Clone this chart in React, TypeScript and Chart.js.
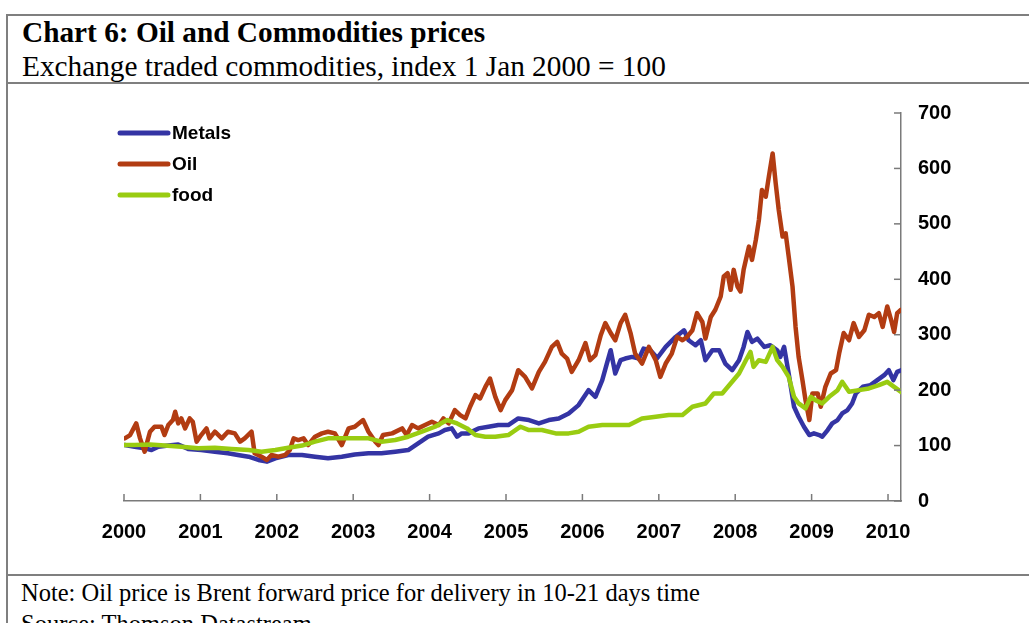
import React, { useEffect, useRef } from "react";
import { Chart, registerables } from "chart.js";

Chart.register(...registerables);

const titleText = "Chart 6: Oil and Commodities prices";
const subtitleText = "Exchange traded commodities, index 1 Jan 2000 = 100";
const noteText = "Note: Oil price is Brent forward price for delivery in 10-21 days time";
const sourceText = "Source: Thomson Datastream";

const seriesNames = ["Metals", "Oil", "food"];
const seriesColors = ["#3434A4", "#B23C12", "#99CC11"];

const xMin = 2000;
const xMax = 2010.17;
const yMin = 0;
const yMax = 700;
const yStep = 100;
const xStep = 1;

const metalsYears = [
  2000.01, 2000.14, 2000.27, 2000.36, 2000.45, 2000.58, 2000.71, 2000.84, 2001.01, 2001.19,
  2001.36, 2001.49, 2001.63, 2001.76, 2001.87, 2001.98, 2002.15, 2002.33, 2002.5, 2002.67,
  2002.85, 2003.02, 2003.2, 2003.37, 2003.55, 2003.72, 2003.85, 2003.98, 2004.12, 2004.2,
  2004.29, 2004.36, 2004.42, 2004.51, 2004.64, 2004.77, 2004.9, 2005.03, 2005.16, 2005.3,
  2005.43, 2005.56, 2005.69, 2005.82, 2005.95, 2006.08, 2006.17, 2006.26, 2006.32, 2006.37,
  2006.43, 2006.5, 2006.56, 2006.65, 2006.74, 2006.8, 2006.89, 2006.98, 2007.09, 2007.22,
  2007.33, 2007.39, 2007.48, 2007.55, 2007.61, 2007.7, 2007.79, 2007.87, 2007.96, 2008.05,
  2008.11, 2008.16, 2008.22, 2008.29, 2008.38, 2008.46, 2008.55, 2008.59, 2008.64, 2008.7,
  2008.77, 2008.83, 2008.9, 2008.97, 2009.03, 2009.1, 2009.14, 2009.21, 2009.27, 2009.34,
  2009.4, 2009.47, 2009.53, 2009.58, 2009.67, 2009.77, 2009.86, 2009.95, 2010.01, 2010.07,
  2010.12, 2010.17,
];
const metalsValues = [
  101, 98, 95, 92, 98, 100, 102, 94, 92, 89,
  86, 83, 80, 74, 71, 77, 83, 83, 80, 77,
  80, 84, 86, 86, 89, 92, 104, 116, 122, 128,
  131, 116, 122, 122, 131, 134, 137, 137, 149, 146,
  140, 146, 149, 158, 173, 200, 188, 218, 248, 272,
  230, 254, 257, 260, 257, 275, 272, 258, 278, 296,
  308, 290, 281, 290, 254, 272, 272, 248, 236, 254,
  278, 305, 287, 293, 278, 281, 272, 260, 278, 230,
  170, 152, 134, 119, 122, 119, 116, 128, 140, 146,
  158, 164, 176, 194, 206, 209, 218, 227, 236, 218,
  233, 236,
];

const oilYears = [
  2000.01, 2000.08, 2000.16, 2000.21, 2000.27, 2000.34, 2000.4, 2000.49, 2000.53, 2000.58,
  2000.64, 2000.67, 2000.71, 2000.75, 2000.8, 2000.86, 2000.9, 2000.95, 2001.01, 2001.08,
  2001.12, 2001.19, 2001.28, 2001.36, 2001.45, 2001.52, 2001.58, 2001.67, 2001.71, 2001.8,
  2001.87, 2001.93, 2002.02, 2002.11, 2002.17, 2002.22, 2002.28, 2002.35, 2002.41, 2002.5,
  2002.59, 2002.67, 2002.76, 2002.85, 2002.94, 2003.02, 2003.13, 2003.2, 2003.29, 2003.33,
  2003.39, 2003.51, 2003.64, 2003.7, 2003.77, 2003.85, 2003.94, 2004.03, 2004.12, 2004.18,
  2004.25, 2004.33, 2004.4, 2004.47, 2004.53, 2004.6, 2004.66, 2004.73, 2004.79, 2004.86,
  2004.93, 2004.99, 2005.08, 2005.16, 2005.25, 2005.34, 2005.43, 2005.51, 2005.6, 2005.67,
  2005.73, 2005.8, 2005.86, 2005.95, 2006.04, 2006.1, 2006.17, 2006.24, 2006.3, 2006.37,
  2006.43, 2006.5, 2006.56, 2006.63, 2006.69, 2006.78, 2006.87, 2006.96, 2007.02, 2007.09,
  2007.17, 2007.24, 2007.31, 2007.37, 2007.44, 2007.5, 2007.57, 2007.61, 2007.68, 2007.74,
  2007.81, 2007.85, 2007.9, 2007.94, 2007.98, 2008.03, 2008.07, 2008.11, 2008.18, 2008.22,
  2008.27, 2008.31, 2008.35, 2008.4, 2008.44, 2008.49, 2008.53, 2008.57, 2008.62, 2008.66,
  2008.7, 2008.75, 2008.79, 2008.83, 2008.88, 2008.92, 2008.97, 2009.01, 2009.08, 2009.12,
  2009.18, 2009.25, 2009.32, 2009.36, 2009.42, 2009.49, 2009.55, 2009.62, 2009.69, 2009.75,
  2009.82, 2009.88, 2009.93, 2009.99, 2010.04, 2010.08, 2010.12, 2010.17,
];
const oilValues = [
  113, 119, 140, 113, 89, 125, 134, 134, 119, 137,
  146, 161, 140, 149, 131, 149, 143, 107, 119, 131,
  113, 125, 113, 125, 122, 107, 113, 125, 86, 80,
  74, 83, 80, 83, 92, 113, 110, 113, 101, 116,
  122, 125, 122, 101, 131, 134, 146, 125, 107, 101,
  119, 122, 131, 119, 137, 131, 137, 143, 137, 149,
  140, 164, 155, 149, 170, 191, 185, 206, 221, 188,
  164, 182, 200, 236, 224, 203, 233, 251, 278, 287,
  266, 257, 233, 254, 285, 254, 263, 299, 321, 303,
  290, 321, 336, 303, 266, 248, 278, 254, 224, 248,
  266, 296, 290, 296, 308, 339, 323, 293, 332, 345,
  369, 405, 411, 381, 417, 387, 378, 417, 459, 435,
  471, 507, 561, 549, 585, 627, 573, 525, 477, 483,
  441, 387, 314, 260, 218, 182, 146, 194, 194, 170,
  206, 230, 236, 266, 303, 290, 321, 296, 308, 336,
  332, 339, 314, 351, 327, 305, 339, 345,
];

const foodYears = [
  2000.01, 2000.14, 2000.34, 2000.53, 2000.75, 2000.97, 2001.19, 2001.41, 2001.63, 2001.8,
  2001.98, 2002.15, 2002.33, 2002.5, 2002.67, 2002.85, 2003.02, 2003.2, 2003.37, 2003.55,
  2003.72, 2003.9, 2004.07, 2004.23, 2004.36, 2004.49, 2004.6, 2004.73, 2004.86, 2005.03,
  2005.19, 2005.3, 2005.47, 2005.65, 2005.82, 2005.95, 2006.08, 2006.26, 2006.43, 2006.61,
  2006.78, 2006.96, 2007.13, 2007.31, 2007.44, 2007.61, 2007.72, 2007.83, 2007.94, 2008.05,
  2008.14, 2008.2, 2008.24, 2008.31, 2008.4, 2008.49, 2008.55, 2008.62, 2008.7, 2008.77,
  2008.83, 2008.92, 2008.99, 2009.05, 2009.14, 2009.23, 2009.34, 2009.4, 2009.49, 2009.62,
  2009.75, 2009.88, 2009.99, 2010.08, 2010.17,
];
const foodValues = [
  101, 101, 102, 100, 98, 95, 96, 94, 92, 89,
  92, 96, 100, 107, 113, 113, 113, 113, 107, 110,
  116, 125, 134, 146, 140, 131, 119, 116, 116, 119,
  134, 128, 128, 122, 122, 125, 134, 137, 137, 137,
  149, 152, 155, 155, 170, 176, 194, 194, 212, 230,
  254, 269, 242, 254, 251, 278, 254, 242, 224, 188,
  176, 167, 188, 182, 176, 188, 200, 215, 197, 200,
  203, 209, 215, 206, 197,
];

const toPoints = (xs: number[], ys: number[]) => xs.map((x, i) => ({ x, y: ys[i] }));

const inwardTicks = {
  id: "inwardTicks",
  afterDraw(chart: any) {
    const { ctx, chartArea, scales } = chart;
    ctx.save();
    ctx.strokeStyle = "#7a7a7a";
    ctx.lineWidth = 1.5;
    scales.x.ticks.forEach((t: any) => {
      const px = scales.x.getPixelForValue(t.value);
      ctx.beginPath();
      ctx.moveTo(px, chartArea.bottom);
      ctx.lineTo(px, chartArea.bottom - 7);
      ctx.stroke();
    });
    scales.y.ticks.forEach((t: any) => {
      const py = scales.y.getPixelForValue(t.value);
      ctx.beginPath();
      ctx.moveTo(chartArea.right, py);
      ctx.lineTo(chartArea.right - 7, py);
      ctx.stroke();
    });
    ctx.restore();
  },
};

const insideLegend = {
  id: "insideLegend",
  afterDatasetsDraw(chart: any) {
    const { ctx, chartArea } = chart;
    ctx.save();
    chart.data.datasets.forEach((ds: any, i: number) => {
      const y = chartArea.top + 20 + i * 31;
      const x0 = chartArea.left - 4;
      ctx.strokeStyle = ds.borderColor;
      ctx.lineWidth = 5;
      ctx.lineCap = "round";
      ctx.beginPath();
      ctx.moveTo(x0, y);
      ctx.lineTo(x0 + 48, y);
      ctx.stroke();
      ctx.fillStyle = "#000";
      ctx.font = 'bold 19px "Liberation Sans", Arial, sans-serif';
      ctx.textBaseline = "middle";
      ctx.textAlign = "left";
      ctx.fillText(ds.label, x0 + 52, y + 1);
    });
    ctx.restore();
  },
};

export default function App() {
  const canvasRef = useRef<HTMLCanvasElement | null>(null);

  useEffect(() => {
    const canvas = canvasRef.current;
    if (!canvas) return;
    const seriesX = [metalsYears, oilYears, foodYears];
    const seriesY = [metalsValues, oilValues, foodValues];
    const orders = [3, 2, 1];
    const chart = new Chart(canvas, {
      type: "line",
      data: {
        datasets: seriesNames.map((name, i) => ({
          label: name,
          data: toPoints(seriesX[i], seriesY[i]),
          borderColor: seriesColors[i],
          backgroundColor: seriesColors[i],
          borderWidth: 4.5,
          pointRadius: 0,
          tension: 0,
          fill: false,
          order: orders[i],
          borderJoinStyle: "round" as const,
          borderCapStyle: "round" as const,
        })),
      },
      options: {
        animation: false,
        responsive: false,
        maintainAspectRatio: false,
        devicePixelRatio: 1,
        layout: { padding: { left: 116, right: 68, top: 30, bottom: 22 } },
        plugins: {
          legend: { display: false },
          tooltip: { enabled: false },
          title: { display: false },
        },
        scales: {
          x: {
            type: "linear",
            min: xMin,
            max: xMax,
            grid: { display: false, drawTicks: false, tickLength: 0 },
            border: { display: true, color: "#7a7a7a", width: 1.5 },
            ticks: {
              stepSize: xStep,
              includeBounds: false,
              autoSkip: false,
              maxRotation: 0,
              padding: 19,
              color: "#000",
              font: { family: '"Liberation Sans", Arial, sans-serif', size: 20, weight: "bold" },
              callback: (v: any) => String(v),
            },
            afterFit: (s: any) => {
              s.height = 50;
            },
          },
          y: {
            type: "linear",
            position: "right",
            min: yMin,
            max: yMax,
            grid: { display: false, drawTicks: false, tickLength: 0 },
            border: { display: true, color: "#7a7a7a", width: 1.5 },
            ticks: {
              stepSize: yStep,
              padding: 17,
              color: "#000",
              font: { family: '"Liberation Sans", Arial, sans-serif', size: 20, weight: "bold" },
              callback: (v: any) => String(v),
            },
            afterFit: (s: any) => {
              s.width = 60;
            },
          },
        },
      },
      plugins: [inwardTicks, insideLegend],
    });
    return () => chart.destroy();
  }, []);

  const serif = '"Liberation Serif", "Times New Roman", serif';
  const line = (top: number): React.CSSProperties => ({
    position: "absolute",
    left: 7,
    top,
    width: 1022,
    height: 1.5,
    background: "#7f7f7f",
  });

  return (
    <div
      style={{
        position: "absolute",
        left: 0,
        top: 0,
        width: 1029,
        height: 623,
        overflow: "hidden",
        background: "#fff",
      }}
    >
      <div style={line(14)} />
      <div style={line(82)} />
      <div style={line(574)} />
      <div
        style={{ position: "absolute", left: 6, top: 14, width: 1.5, height: 609, background: "#7f7f7f" }}
      />
      <div
        style={{
          position: "absolute",
          left: 22,
          top: 18,
          fontFamily: serif,
          fontWeight: "bold",
          fontSize: 29.3,
          lineHeight: "29px",
          whiteSpace: "nowrap",
          color: "#000",
        }}
      >
        {titleText}
      </div>
      <div
        style={{
          position: "absolute",
          left: 22,
          top: 52,
          fontFamily: serif,
          fontSize: 29.3,
          lineHeight: "29px",
          whiteSpace: "nowrap",
          color: "#000",
        }}
      >
        {subtitleText}
      </div>
      <canvas
        ref={canvasRef}
        width={1021}
        height={490}
        style={{ position: "absolute", left: 8, top: 83, width: 1021, height: 490 }}
      />
      <div
        style={{
          position: "absolute",
          left: 21,
          top: 577,
          fontFamily: serif,
          fontSize: 24.5,
          lineHeight: "31px",
          whiteSpace: "nowrap",
          color: "#000",
        }}
      >
        <div>{noteText}</div>
        <div>{sourceText}</div>
      </div>
    </div>
  );
}
